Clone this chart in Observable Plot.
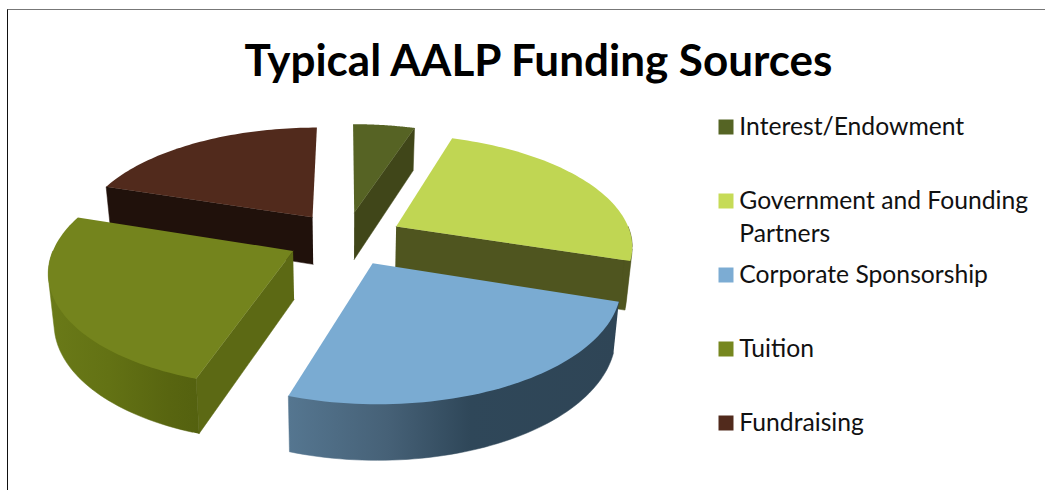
<!DOCTYPE html>
<html>
<head>
<meta charset="utf-8">
<title>Typical AALP Funding Sources</title>
<script src="https://cdn.jsdelivr.net/npm/d3@7"></script>
<script src="https://cdn.jsdelivr.net/npm/@observablehq/plot@0.6"></script>
<style>
  html, body { margin: 0; padding: 0; background: #fff; }
  #page { position: relative; width: 1045px; height: 490px; overflow: hidden; }
  #page svg { position: absolute; left: 0; top: 0; }
  #frame { position: absolute; left: 7px; top: 9px; right: -4px; bottom: -4px;
           border-top: 1.5px solid #777; border-left: 1.5px solid #111; }
</style>
</head>
<body>
<div id="page"><div id="frame"></div></div>
<script>
// Funding shares, clockwise from twelve o'clock
const sources = ["Interest/Endowment", "Government and Founding\nPartners", "Corporate Sponsorship", "Tuition", "Fundraising"];
const shares = [5, 25, 25, 25, 20];

// Face colours per source
const topColors = ["#566324", "#c0d653", "#7aabd2", "#74841d", "#512a1c"];
const cutColors = ["#404619", "#4f551f", "#2f4759", "#5c6914", "#20110b"];
const rimColors = ["#404619", "#4f551f", "url(#rimCorporate)", "url(#rimTuition)", "#20110b"];
const legendColors = ["#556424", "#c6db57", "#7cacd3", "#76871f", "#512a1c"];

// Which radial cut of each slice faces the viewer
const visibleCuts = ["end", "end", null, "start", "start"];

// Slices are painted back to front
const paintOrder = [0, 4, 1, 3, 2];

// Horizontal shading on the curved outer walls
const rimGradients = [
  {id: "rimCorporate", stops: [[0, "#557690"], [0.3, "#466177"], [0.55, "#2f4759"], [1, "#2f4556"]]},
  {id: "rimTuition", stops: [[0, "#6a7a18"], [0.4, "#637214"], [0.8, "#586510"], [1, "#54610f"]]}
];

// Pie geometry: a unit disc seen in perspective from above
const width = 1045, height = 490;
const center = {x: 345, y: 238};
const radiusX = 236, radiusY = 110, thickness = 49;
const explode = 0.245, perspective = 0.157, depthShrink = 0.02;

function project(X, Y, Z) {
  const s = 1 / (1 - perspective * Y) / (1 + depthShrink * Z);
  return {x: center.x + radiusX * X * s, y: center.y + radiusY * Y * s + thickness * Z * s};
}

// The wall outline is the hull of both arcs, so the silhouette stays tangent
// where the wall turns away; the top face then hides the inner side.
function wallOutline(points) {
  return d3.polygonHull(points.map((p) => [p.x, p.y])).map(([x, y]) => ({x, y}));
}

const total = d3.sum(shares);
const ends = d3.cumsum(shares).map((v) => (v / total) * 2 * Math.PI);
const slices = shares.map((_, i) => {
  const a0 = i ? ends[i - 1] : 0, a1 = ends[i], mid = (a0 + a1) / 2;
  const ox = explode * Math.sin(mid), oy = -explode * Math.cos(mid);
  const apex = (Z) => project(ox, oy, Z);
  const rimAt = (a, Z) => project(ox + Math.sin(a), oy - Math.cos(a), Z);
  const arc = d3.range(0, 1.0001, 1 / 60).map((t) => a0 + (a1 - a0) * t);
  // Only the front half of the outer wall can be seen
  const front = arc.filter((a) => a >= Math.PI / 2 && a <= 3 * Math.PI / 2);
  return {
    top: [apex(0), ...arc.map((a) => rimAt(a, 0))],
    rim: front.length > 2 ? wallOutline([...front.map((a) => rimAt(a, 0)), ...front.map((a) => rimAt(a, 1))]) : null,
    start: [apex(0), rimAt(a0, 0), rimAt(a0, 1), apex(1)],
    end: [apex(0), rimAt(a1, 0), rimAt(a1, 1), apex(1)]
  };
});

// A hairline stroke in the fill colour closes the seams between touching faces
const face = (points, fill) => Plot.line(points, {x: "x", y: "y", fill, stroke: fill, strokeWidth: 0.5});
const topFace = (points, fill) => Plot.line(points, {x: "x", y: "y", fill, stroke: "none"});

const pieMarks = paintOrder.flatMap((i) => [
  ...(visibleCuts[i] ? [face(slices[i][visibleCuts[i]], cutColors[i])] : []),
  ...(slices[i].rim ? [face(slices[i].rim, rimColors[i])] : []),
  topFace(slices[i].top, topColors[i])
]);

// Gradient definitions used by the wall fills
function gradientDefs() {
  const defs = d3.create("svg:defs");
  for (const g of rimGradients) {
    const lg = defs.append("linearGradient").attr("id", g.id);
    for (const [offset, color] of g.stops) {
      lg.append("stop").attr("offset", offset).attr("stop-color", color);
    }
  }
  return defs.node();
}

// Legend rows: one swatch and one label per source
const legendX = 725.5, legendTextX = 738.8, legendY0 = 126.5, legendStep = 74;
const legendRows = sources.map((name, i) => ({name, color: legendColors[i], y: legendY0 + i * legendStep}));

const chart = Plot.plot({
  width, height,
  margin: 0,
  style: {background: "transparent"},
  x: {domain: [0, width], range: [0, width], axis: null},
  y: {domain: [0, height], range: [0, height], axis: null},
  marks: [
    gradientDefs,
    ...pieMarks,
    Plot.dot(legendRows, {x: legendX, y: "y", symbol: "square", r: 15 / Math.sqrt(Math.PI), fill: (d) => d.color, stroke: "none"}),
    Plot.text(legendRows, {
      x: legendTextX, y: (d) => d.y - 16, text: "name", textAnchor: "start", lineAnchor: "top",
      fontFamily: "Lato", fontSize: 24.7, lineHeight: 1.34, fill: "#111"
    }),
    Plot.text(["Typical AALP Funding Sources"], {
      x: 538, y: 61.5, text: (d) => d, textAnchor: "middle", fontFamily: "Lato", fontWeight: "bold", fontSize: 44, fill: "#000"
    })
  ]
});

document.getElementById("page").appendChild(chart);
</script>
</body>
</html>
